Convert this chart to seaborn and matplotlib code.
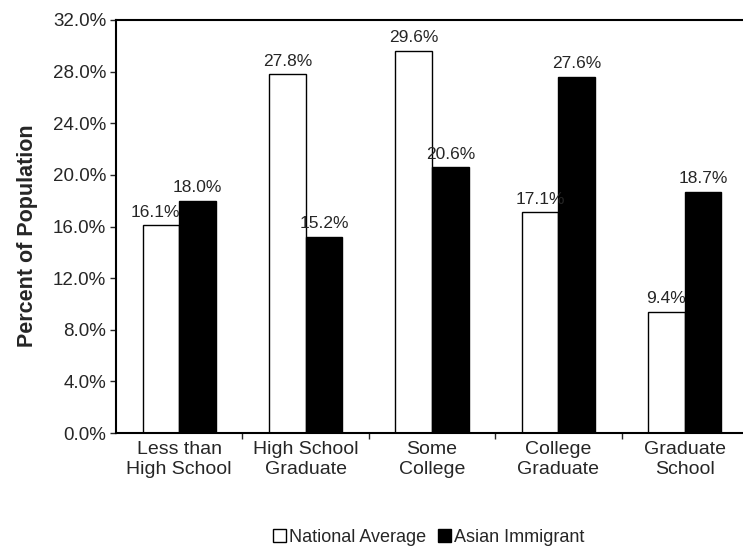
import pandas as pd
import matplotlib.pyplot as plt
import seaborn as sns
from matplotlib.patches import Patch
from matplotlib.ticker import FuncFormatter, FixedLocator

# ------------------------------------------------------
# Data
# ------------------------------------------------------
categories = ["Less than\nHigh School", "High School\nGraduate", "Some\nCollege",
              "College\nGraduate", "Graduate\nSchool"]
national_avg = [16.1, 27.8, 29.6, 17.1, 9.4]
asian_immigrant = [18.0, 15.2, 20.6, 27.6, 18.7]
series_names = ["National Average", "Asian Immigrant"]
y_ticks = [0, 4, 8, 12, 16, 20, 24, 28, 32]

df = pd.DataFrame({
    "category": categories * 2,
    "group": [series_names[0]] * len(categories) + [series_names[1]] * len(categories),
    "value": national_avg + asian_immigrant,
})

# ------------------------------------------------------
# Style
# ------------------------------------------------------
sns.set_style("white")
plt.rcParams["font.family"] = ["Liberation Sans", "DejaVu Sans"]

fig = plt.figure(figsize=(7.43, 5.47), dpi=100)
ax = fig.add_axes([116 / 743, 114 / 547, 632 / 743, 413 / 547])

sns.barplot(data=df, x="category", y="value", hue="group",
            palette=["white", "black"], edgecolor="black", linewidth=1.0,
            width=0.58, gap=0, ax=ax, legend=False, errorbar=None)

# value labels
for i, cont in enumerate(ax.containers):
    labels = ax.bar_label(cont, fmt="%.1f%%", padding=4, fontsize=12.5)
    if i == 0:
        # first label sits a little left so it clears the black bar
        labels[0].xyann = (-4, 4)

ax.set_ylim(0, 32)
ax.set_xlim(-0.5, 4.5)
ax.yaxis.set_major_locator(FixedLocator(y_ticks))
ax.yaxis.set_major_formatter(FuncFormatter(lambda v, p: f"{v:.1f}%"))
ax.tick_params(axis="y", labelsize=13.5, length=4, width=1, direction="out", left=True, pad=3)
ax.tick_params(axis="x", labelsize=14, length=0, pad=6)
ax.xaxis.set_minor_locator(FixedLocator([0.5, 1.5, 2.5, 3.5]))
ax.tick_params(axis="x", which="minor", length=4, width=1, direction="out", bottom=True)

for s in ax.spines.values():
    s.set_color("black")
    s.set_linewidth(1.5)

ax.set_xlabel("")
ax.set_ylabel("Percent of Population", fontsize=15.5, fontweight="bold")
ax.yaxis.set_label_coords(-0.124, 0.478)

# legend
handles = [Patch(facecolor="white", edgecolor="black", label=series_names[0]),
           Patch(facecolor="black", edgecolor="black", label=series_names[1])]
fig.legend(handles=handles, loc="center", bbox_to_anchor=(0.577, 0.018), ncol=2,
           frameon=False, fontsize=13, handlelength=0.7, handleheight=0.7,
           handletextpad=0.15, columnspacing=0.7, borderpad=0, borderaxespad=0)

fig.savefig("out.png", dpi=100)
